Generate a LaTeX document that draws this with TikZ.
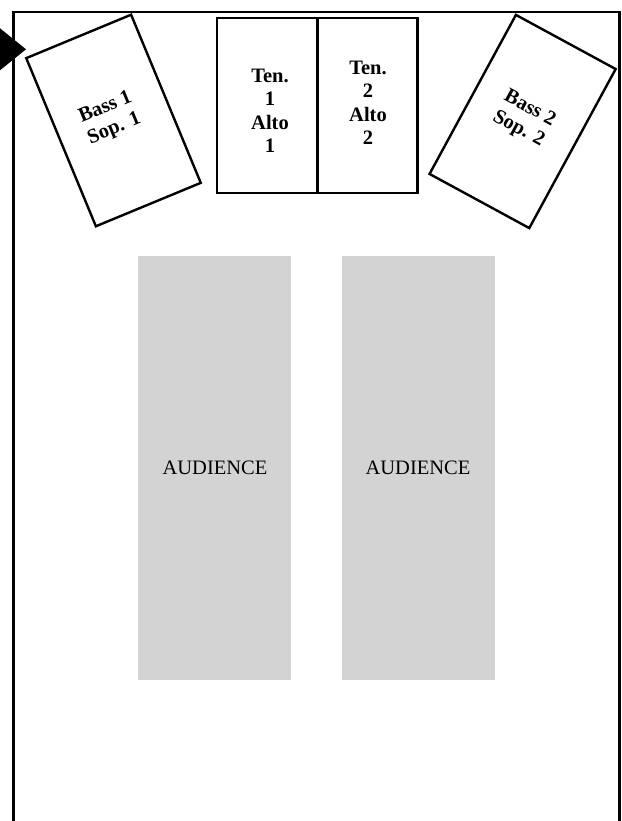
\documentclass[tikz,border=0pt]{standalone}
\usepackage{fontspec}
\setmainfont{Liberation Serif}
\definecolor{audgray}{HTML}{D3D3D3}
\begin{document}
\begin{tikzpicture}[x=1pt,y=-1pt,
  frame/.style={draw=black,line width=2.4pt},
  part/.style={draw=black,line width=2.4pt,inner sep=0pt,outer sep=0pt},
  partlabel/.style={font=\fontsize{20.5}{23.3}\selectfont\bfseries,align=center,inner sep=0pt},
  aud/.style={fill=audgray,draw=none,inner sep=0pt,outer sep=0pt},
  audlabel/.style={font=\fontsize{20.5}{24}\selectfont,inner sep=0pt}]
\useasboundingbox (0,0) rectangle (621,821);
\clip (0,0) rectangle (621,821);
\fill[white] (0,0) rectangle (621,821);
% outer hall
\draw[frame] (13.3,12) rectangle (619.3,845);
% entrance arrow
\fill[black] (-12,18.6) -- (26,49.3) -- (-12,80) -- cycle;
% choir sections
\node[part, minimum width=113.5pt, minimum height=182pt, rotate=22.5] (b1) at (113.5,120.5) {};
\node[partlabel, rotate=22.5] (b1t) at (110,118.5) {Bass 1\\Sop. 1};
\node[part, minimum width=100.6pt, minimum height=174.4pt] (t1) at (267,105.5) {};
\node[partlabel] (t1t) at (270,110.7) {Ten.\\1\\Alto\\1};
\node[part, minimum width=100pt, minimum height=174.4pt] (t2) at (367.3,105.5) {};
\node[partlabel] (t2t) at (368,102.7) {Ten.\\2\\Alto\\2};
\node[part, minimum width=113.5pt, minimum height=181pt, rotate=-28.5] (b2) at (522.6,121.5) {};
\node[partlabel, rotate=-28.5] (b2t) at (524,119) {Bass 2\\Sop. 2};
% audience blocks
\node[aud, minimum width=153pt, minimum height=424pt] (a1) at (214.5,468) {};
\node[audlabel] (a1t) at (215,468.3) {AUDIENCE};
\node[aud, minimum width=152.7pt, minimum height=424pt] (a2) at (418.35,468) {};
\node[audlabel] (a2t) at (418,468.3) {AUDIENCE};
\end{tikzpicture}
\end{document}
